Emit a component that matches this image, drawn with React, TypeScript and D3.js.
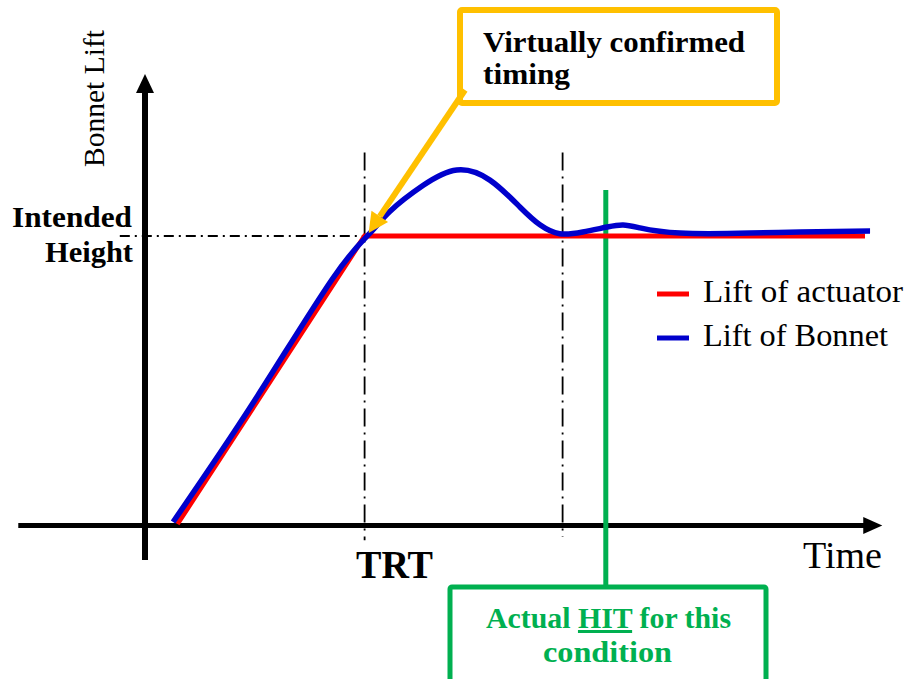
import React from "react";
import * as d3 from "d3";

// ---- data (time units, lift as fraction of intended height) ----
const actuatorTime = [0.45, 3.05, 10.0];
const actuatorLift = [0.0, 1.0, 1.0];

const bonnetTime = [0.39, 1.5, 2.6, 3.125, 3.4, 3.86, 4.33, 4.79, 5.21, 5.49, 5.76, 6.08, 6.42, 6.64, 6.875, 7.43, 8.4, 9.1, 10.07];
const bonnetLift = [0.007, 0.42, 0.85, 1.01, 1.085, 1.175, 1.229, 1.194, 1.1, 1.038, 1.008, 1.014, 1.031, 1.038, 1.028, 1.01, 1.01, 1.014, 1.017];

const trtTime = 3.05;
const settleTime = 5.8;
const hitTime = 6.4;

const legendLabels = ["Lift of actuator", "Lift of Bonnet"];
const legendWidths = [200, 185];
const legendColors = ["#ff0000", "#0000cc"];

const W = 905;
const H = 679;

export default function App() {
  const x = d3.scaleLinear().domain([0, 10]).range([145, 865]);
  const y = d3.scaleLinear().domain([0, 1]).range([524, 236]);

  const line = d3
    .line<[number, number]>()
    .x((d) => x(d[0]))
    .y((d) => y(d[1]));
  const smooth = d3
    .line<[number, number]>()
    .x((d) => x(d[0]))
    .y((d) => y(d[1]))
    .curve(d3.curveNatural);

  const redPts = actuatorTime.map((t, i) => [t, actuatorLift[i]] as [number, number]);
  const bluePts = bonnetTime.map((t, i) => [t, bonnetLift[i]] as [number, number]);

  const font = "'Liberation Serif', 'Times New Roman', serif";
  const yellow = "#ffc000";
  const green = "#00b050";

  // axes geometry from scales
  const x0 = x(0);
  const y0 = y(0);
  const xAxisStart = x(-1.76);
  const xAxisTip = x(10.24);
  const yAxisBottom = y(-0.125);
  const yAxisTip = y(1.5625);

  // yellow pointer
  const pStart: [number, number] = [465, 90];
  const pTip: [number, number] = [x(trtTime) + 4, y(1) - 3];
  const ang = Math.atan2(pTip[1] - pStart[1], pTip[0] - pStart[0]);
  const headLen = 20;
  const headW = 10;
  const bx = pTip[0] - headLen * Math.cos(ang);
  const by = pTip[1] - headLen * Math.sin(ang);
  const px = -Math.sin(ang);
  const py = Math.cos(ang);

  const fit = { lengthAdjust: "spacingAndGlyphs" as const };

  return (
    <svg
      width={W}
      height={H}
      style={{ position: "absolute", left: 0, top: 0, background: "#fff" }}
      fontFamily={font}
    >
      <rect width={W} height={H} fill="#fff" />

      {/* guide lines */}
      <line
        x1={x(-0.35)}
        x2={x(trtTime)}
        y1={y(1)}
        y2={y(1)}
        stroke="#000"
        strokeWidth={1.8}
        strokeDasharray="10,5,2,5"
      />
      <line
        x1={x(trtTime)}
        x2={x(trtTime)}
        y1={y(1.29)}
        y2={y(-0.056)}
        stroke="#000"
        strokeWidth={1.8}
        strokeDasharray="18,6,2,6"
      />
      <line
        x1={x(settleTime)}
        x2={x(settleTime)}
        y1={y(1.29)}
        y2={y(-0.045)}
        stroke="#000"
        strokeWidth={1.8}
        strokeDasharray="18,6,2,6"
      />

      {/* axes */}
      <line x1={xAxisStart} x2={xAxisTip - 16} y1={y0 + 1.5} y2={y0 + 1.5} stroke="#000" strokeWidth={5} />
      <polygon
        points={`${xAxisTip},${y0 + 1.5} ${xAxisTip - 19},${y0 - 7} ${xAxisTip - 19},${y0 + 10}`}
        fill="#000"
      />
      <line x1={x0} x2={x0} y1={yAxisBottom} y2={yAxisTip + 16} stroke="#000" strokeWidth={6} />
      <polygon
        points={`${x0},${yAxisTip} ${x0 - 9},${yAxisTip + 19} ${x0 + 9},${yAxisTip + 19}`}
        fill="#000"
      />

      {/* green HIT line */}
      <line x1={x(hitTime)} x2={x(hitTime)} y1={190} y2={587} stroke={green} strokeWidth={5} />

      {/* series */}
      <path d={line(redPts) || ""} fill="none" stroke="#ff0000" strokeWidth={5} />
      <path d={smooth(bluePts) || ""} fill="none" stroke="#0000cc" strokeWidth={5.5} />

      {/* yellow callout */}
      <rect x={460} y={10} width={317} height={93} rx={2} fill="#fff" stroke={yellow} strokeWidth={6} />
      <line x1={pStart[0]} y1={pStart[1]} x2={bx} y2={by} stroke={yellow} strokeWidth={6} />
      <polygon
        points={`${pTip[0]},${pTip[1]} ${bx + px * headW},${by + py * headW} ${bx - px * headW},${by - py * headW}`}
        fill={yellow}
      />
      <text x={483} y={52} fontSize={30} fontWeight="bold" fill="#000" textLength={262} {...fit}>
        Virtually confirmed
      </text>
      <text x={483} y={84} fontSize={30} fontWeight="bold" fill="#000" textLength={87} {...fit}>
        timing
      </text>

      {/* green box */}
      <rect x={450} y={587} width={316} height={110} rx={2} fill="#fff" stroke={green} strokeWidth={5} />
      <text x={486} y={628} fontSize={30} fontWeight="bold" fill={green} textLength={245} {...fit}>
        Actual <tspan textDecoration="underline">HIT</tspan> for this
      </text>
      <text x={543} y={662} fontSize={30} fontWeight="bold" fill={green} textLength={129} {...fit}>
        condition
      </text>

      {/* axis labels */}
      <text
        transform={`translate(104,${98.5}) rotate(-90)`}
        fontSize={29}
        fill="#000"
        textAnchor="middle"
        textLength={137}
        {...fit}
      >
        Bonnet Lift
      </text>
      <text x={12} y={227} fontSize={29} fontWeight="bold" fill="#000" textLength={120} {...fit}>
        Intended
      </text>
      <text x={45} y={262} fontSize={29} fontWeight="bold" fill="#000" textLength={88} {...fit}>
        Height
      </text>
      <text x={356} y={578} fontSize={40} fontWeight="bold" fill="#000" textLength={77} {...fit}>
        TRT
      </text>
      <text x={803} y={568} fontSize={37} fill="#000" textLength={79} {...fit}>
        Time
      </text>

      {/* legend */}
      {legendLabels.map((lab, i) => (
        <g key={lab} transform={`translate(0,${i * 44})`}>
          <line x1={657} x2={689} y1={294} y2={294} stroke={legendColors[i]} strokeWidth={5} />
          <text x={703} y={302} fontSize={32} fill="#000" textLength={legendWidths[i]} {...fit}>
            {lab}
          </text>
        </g>
      ))}
    </svg>
  );
}
